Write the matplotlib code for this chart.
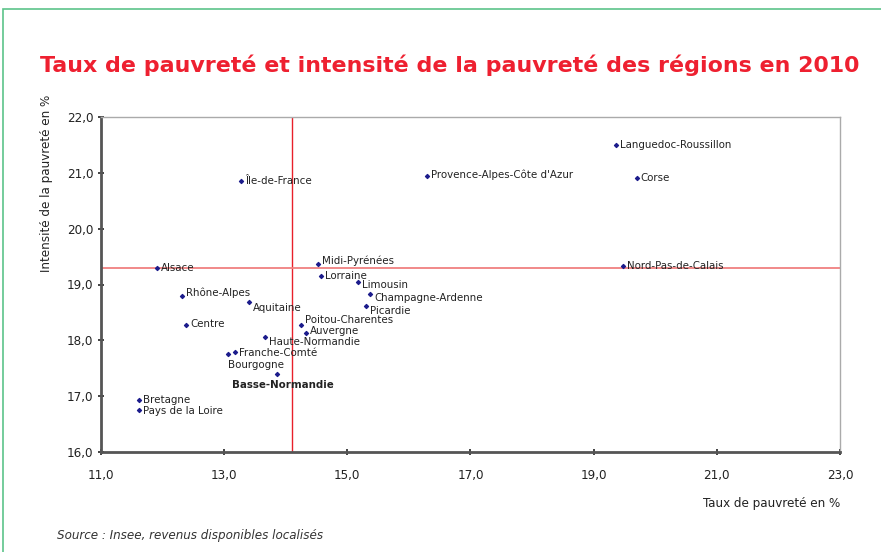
import numpy as np
import matplotlib.pyplot as plt
from matplotlib.patches import Rectangle
from matplotlib.ticker import FuncFormatter

regions = ["Île-de-France", "Alsace", "Midi-Pyrénées", "Lorraine", "Limousin",
           "Rhône-Alpes", "Champagne-Ardenne", "Aquitaine", "Picardie", "Centre",
           "Poitou-Charentes", "Auvergne", "Haute-Normandie", "Franche-Comté",
           "Bourgogne", "Basse-Normandie", "Bretagne", "Pays de la Loire",
           "Provence-Alpes-Côte d'Azur", "Languedoc-Roussillon", "Corse",
           "Nord-Pas-de-Calais"]
taux = [13.27, 11.91, 14.52, 14.57, 15.17, 12.32, 15.37, 13.41, 15.30, 12.38,
        14.25, 14.33, 13.67, 13.17, 13.07, 13.85, 11.61, 11.61, 16.29, 19.36,
        19.70, 19.47]
intensite = [20.86, 19.29, 19.37, 19.16, 19.04, 18.79, 18.83, 18.68, 18.61, 18.27,
             18.28, 18.13, 18.06, 17.79, 17.76, 17.39, 16.94, 16.75, 20.94, 21.49,
             20.91, 19.34]
france_taux = 14.1
france_intensite = 19.3

# label offsets in pixels (dx, dy), default right of the marker
offsets = {"Midi-Pyrénées": (4, 3), "Limousin": (4, -3), "Rhône-Alpes": (4, 3),
           "Champagne-Ardenne": (4, -4), "Aquitaine": (4, -6), "Picardie": (4, -5),
           "Centre": (4, 1), "Poitou-Charentes": (4, 5), "Auvergne": (4, 2),
           "Haute-Normandie": (4, -5), "Franche-Comté": (4, -1), "Bourgogne": (0, -11),
           "Basse-Normandie": (6, -11), "Pays de la Loire": (4, -1),
           "Provence-Alpes-Côte d'Azur": (4, 1)}

plt.rcParams['font.family'] = ['DejaVu Sans']
plt.rcParams['font.stretch'] = 'condensed'

fig = plt.figure(figsize=(8.81, 5.52), dpi=100)
fig.patches.append(Rectangle((3 / 881, -0.1), 1.2, (552 - 9) / 552 + 0.1, transform=fig.transFigure,
                             fill=False, edgecolor='#5cc48a', linewidth=1.2))

ax = fig.add_axes([101 / 881, 1 - 452 / 552, 739 / 881, 335 / 552])
ax.set_xlim(11, 23)
ax.set_ylim(16, 22)
ax.set_xticks(np.arange(11, 23.1, 2))
ax.set_yticks(np.arange(16, 22.1, 1))
fmt = FuncFormatter(lambda v, p: f"{v:.1f}".replace('.', ','))
ax.xaxis.set_major_formatter(fmt)
ax.yaxis.set_major_formatter(fmt)
ax.tick_params(labelsize=9.5, colors='#222222', length=4, width=1.2, direction='inout')
ax.tick_params(axis='x', pad=10)
for s in ['left', 'bottom']:
    ax.spines[s].set_color('#555555')
    ax.spines[s].set_linewidth(2)
for s in ['top', 'right']:
    ax.spines[s].set_color('#aaaaaa')
    ax.spines[s].set_linewidth(1)

ax.axvline(france_taux, color='#e8202a', linewidth=1)
ax.axhline(france_intensite, color='#f08080', linewidth=1.3)

ax.scatter(taux, intensite, marker='D', s=4, color='#1c1c8c', zorder=3)
for name, x, y in zip(regions, taux, intensite):
    dx, dy = offsets.get(name, (4, 0))
    ha = 'center' if name == "Basse-Normandie" else 'left'
    ax.annotate(name, (x, y), xytext=(dx, dy), textcoords='offset pixels',
                ha=ha, va='center', fontsize=8.2, color='#222222',
                fontweight='bold' if name == "Basse-Normandie" else 'normal')

fig.text(40 / 881, 1 - 65 / 552, "Taux de pauvreté et intensité de la pauvreté des régions en 2010",
         fontsize=15.9, fontweight='bold', color='#ee2030', family='DejaVu Sans',
         stretch='normal', ha='left', va='center')
fig.text(47 / 881, 1 - 95 / 552, "Intensité de la pauvreté en %", rotation=90,
         ha='center', va='top', fontsize=9.5, color='#222222')
fig.text(840 / 881, 1 - 503 / 552, "Taux de pauvreté en %", ha='right', va='center',
         fontsize=9.5, color='#222222')
fig.text(57 / 881, 1 - 535 / 552, "Source : Insee, revenus disponibles localisés",
         ha='left', va='center', fontsize=9.5, style='italic', color='#333333')

fig.savefig('out.png', dpi=100)
